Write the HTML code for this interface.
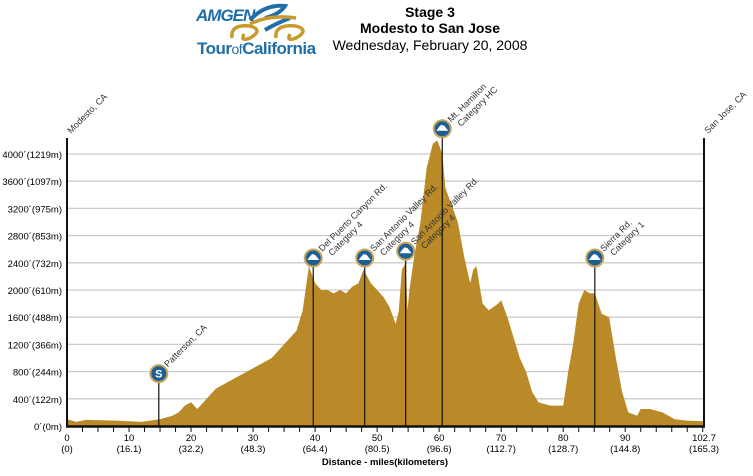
<!DOCTYPE html>
<html><head><meta charset="utf-8"><style>
body{margin:0;background:#fff;width:753px;height:471px;overflow:hidden;font-family:"Liberation Sans",sans-serif}
svg text{font-family:"Liberation Sans",sans-serif}
</style></head><body>
<svg id="chart" width="753" height="471" xmlns="http://www.w3.org/2000/svg">
<g>
<text x="196" y="21" font-size="17" font-weight="bold" font-style="italic" fill="#1f6ea8" letter-spacing="-1">AMGEN</text>
<path d="M250 20 q15 -16 35 -14 q-5 8 -20 12 M265 30 q10 -6 25 -12" stroke="#1f6ea8" stroke-width="4" fill="none"/>
<path d="M232 38 q-2 -14 18 -12 q14 4 0 12 q-10 4 -6 -4 M276 38 q-2 -14 20 -12 q14 4 0 12 q-10 4 -6 -4 M250 24 q20 -10 46 -6" stroke="#c69a2b" stroke-width="3.5" fill="none"/>
<text x="197" y="54" font-size="17" font-weight="bold" fill="#1f6ea8" letter-spacing="-0.5">Tour<tspan font-weight="normal" font-size="14">of</tspan>California</text>
</g>
<text x="430" y="17" font-size="14" font-weight="bold" text-anchor="middle">Stage 3</text>
<text x="430" y="33" font-size="14" font-weight="bold" text-anchor="middle">Modesto to San Jose</text>
<text x="430" y="50" font-size="14" text-anchor="middle">Wednesday, February 20, 2008</text>
<g id="grid"></g><g id="area"></g><g id="axes"></g><g id="marks"></g>
</svg>
<script>
const miles=[0,1.5,3,8,12,15,17,18,19,20,21,22,23,24,25,27,30,33,35,37,38,39,40,41,42,43,44,45,46,47,47.8,49,50,51,52,53,53.5,54,54.6,54.9,55.2,56,57,58,59,59.7,60.5,61,63,64,65,65.5,66,67,68,69.5,70,71,72,73,74,75,76,77.9,80,80.8,81.6,82.5,83.4,84.3,85.1,86.2,87.4,88.5,89.5,90.5,91.9,92.5,94,96,98,100,102.7];
const elev=[100,60,90,80,60,100,150,200,300,350,250,350,450,550,600,700,850,1000,1200,1400,1700,2350,2100,2000,2000,1950,2000,1950,2050,2100,2300,2100,2000,1900,1750,1500,1700,2300,2400,1700,2000,2500,3000,3800,4150,4200,4000,3500,3000,2500,2100,2300,2350,1800,1700,1800,1850,1600,1300,1000,800,500,350,300,300,800,1200,1800,2000,1950,1950,1650,1600,1000,500,200,150,250,250,200,100,80,70];
const yTicks=[0,400,800,1200,1600,2000,2400,2800,3200,3600,4000];
const yLabels=["0´(0m)","400´(122m)","800´(244m)","1200´(366m)","1600´(488m)","2000´(610m)","2400´(732m)","2800´(853m)","3200´(975m)","3600´(1097m)","4000´(1219m)"];
const xTicks=[0,10,20,30,40,50,60,70,80,90,102.7];
const xKm=["(0)","(16.1)","(32.2)","(48.3)","(64.4)","(80.5)","(96.6)","(112.7)","(128.7)","(144.8)","(165.3)"];
const climbMiles=[14.8,39.7,48.0,54.6,60.5,85.1];
const climbTop=[800,2500,2500,2600,4400,2500];
const climbType=["S","M","M","M","M","M"];
const climbLabels=[["Patterson, CA"],["Del Puerto Canyon Rd.","Category 4"],["San Antonio Valley Rd.","Category 4"],["San Antonio Valley Rd.","Category 4"],["Mt. Hamilton","Category HC"],["Sierra Rd.","Category 1"]];
const X=m=>67+m*(637/102.7), Y=e=>426-e*0.068;
const NS="http://www.w3.org/2000/svg";
function mk(t,a,p){const e=document.createElementNS(NS,t);for(const k in a)e.setAttribute(k,a[k]);p.appendChild(e);return e;}
const grid=document.getElementById('grid'),area=document.getElementById('area'),axes=document.getElementById('axes'),marks=document.getElementById('marks');
yTicks.forEach((v,i)=>{
 if(v>0){const l=mk('line',{x1:67,x2:704,y1:Y(v),y2:Y(v),stroke:'#ccc','stroke-width':1.3},grid);
 
 }
 const t=mk('text',{x:62,y:Y(v)+4,'font-size':9.5,'text-anchor':'end'},axes);t.textContent=yLabels[i];
 
 
});
let d='M'+X(0)+' '+Y(0);miles.forEach((m,i)=>d+=' L'+X(m).toFixed(1)+' '+Y(elev[i]).toFixed(1));d+=' L'+X(102.7)+' '+Y(0)+'Z';
const p=mk('path',{d:d,fill:'#b98a27'},area);


const base=mk('line',{x1:66,x2:705,y1:426.5,y2:426.5,stroke:'#111','stroke-width':2.5},axes);


[[0,"Modesto, CA"],[102.7,"San Jose, CA"]].forEach(([m,n])=>{
 const l=mk('line',{x1:X(m),x2:X(m),y1:138,y2:426,stroke:'#111','stroke-width':2},axes);
 
 
 const t=mk('text',{x:X(m)+4,y:134,'font-size':9,fill:'#333',transform:`rotate(-45 ${X(m)+4} 134)`},axes);t.textContent=n;
 
 
});
for(let m=2.5;m<102.7;m+=2.5){const l=mk('line',{x1:X(m),x2:X(m),y1:426,y2:432,stroke:'#111','stroke-width':1},axes);
 
 }
xTicks.forEach((v,i)=>{
 const t=mk('text',{x:X(v),y:441,'font-size':9.5,'text-anchor':'middle'},axes);t.textContent=v;
 
 
 const k=mk('text',{x:X(v),y:452,'font-size':9.5,'text-anchor':'middle'},axes);k.textContent=xKm[i];
 
 
});
const xt=mk('text',{x:385,y:465,'font-size':9.5,'font-weight':'bold','text-anchor':'middle'},axes);xt.textContent='Distance - miles(kilometers)';


climbMiles.forEach((m,i)=>{
 const x=X(m),cy=Y(climbTop[i])+2;
 const g=mk('g',{},marks);
 
 
 mk('line',{x1:x,x2:x,y1:cy,y2:426,stroke:'#111','stroke-width':1.2},g);
 mk('circle',{cx:x,cy:cy,r:8.5,fill:'#1b5f94',stroke:'#c9a55a','stroke-width':2},g);
 if(climbType[i]=='S'){const s=mk('text',{x:x,y:cy+4,'font-size':11,'font-weight':'bold',fill:'#fff','text-anchor':'middle'},g);s.textContent='S';}
 else mk('path',{d:`M${x-6} ${cy+2} L${x-3} ${cy-2} L${x-1} ${cy-4} L${x+2} ${cy-3} L${x+6} ${cy+2}Z`,fill:'#fff'},g);
 const tx=x+9,ty=cy-6;
 const t=mk('text',{x:tx,y:ty,'font-size':9,fill:'#333',transform:`rotate(-45 ${tx} ${ty})`},g);
 climbLabels[i].forEach((s,j)=>{const ts=mk('tspan',{x:tx,dy:j?10:0,dx:j?4:0},t);ts.textContent=s;});
 
 
});
</script>
</body></html>
